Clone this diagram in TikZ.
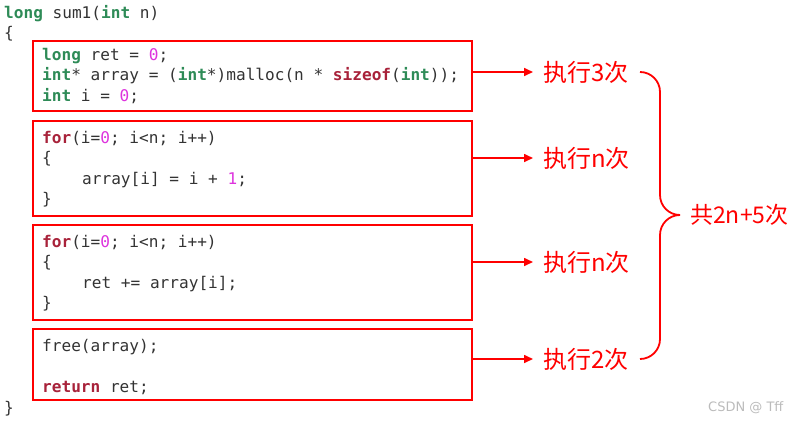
\documentclass[tikz,border=0pt]{standalone}
\usepackage{fontspec}
\newfontfamily\codefont{DejaVu Sans Mono}
\newfontfamily\cjkfont{Noto Sans CJK SC}
\newfontfamily\wmfont{DejaVu Sans}
\usetikzlibrary{arrows.meta}
\definecolor{kwgreen}{HTML}{2E8B57}
\definecolor{kwred}{HTML}{A8223A}
\definecolor{numpink}{HTML}{DD33DD}
\definecolor{codegray}{HTML}{333333}
\definecolor{wmgray}{HTML}{BBBBBB}
\newcommand{\kwg}[1]{{\bfseries\color{kwgreen}#1}}
\newcommand{\kwr}[1]{{\bfseries\color{kwred}#1}}
\newcommand{\cnum}[1]{{\color{numpink}#1}}
\begin{document}
\begin{tikzpicture}[x=1pt,y=-1pt,
  code/.style={anchor=base west, inner sep=0pt, font=\codefont\fontsize{16.1}{19}\selectfont, text=codegray},
  blk/.style={draw=red, line width=1.8pt, inner sep=0pt, anchor=north west, minimum width=439pt},
  lab/.style={anchor=west, font=\cjkfont\fontsize{24}{28}\selectfont, text=red, inner sep=0pt},
  arr/.style={red, line width=1.6pt, -{Triangle[length=9pt,width=8pt]}, shorten >=10pt}]
\useasboundingbox (0,0) rectangle (802,423);
% outer code
\node[code] (c0) at (4,18) {\kwg{long} sum1(\kwg{int} n)};
\node[code] (c1) at (4,38) {\{};
\node[code] (c99) at (4,413) {\}};
% boxes
\node[blk, minimum height=70pt] (b1) at (32,40) {};
\node[blk, minimum height=95pt] (b2) at (32,120) {};
\node[blk, minimum height=95pt] (b3) at (32,224) {};
\node[blk, minimum height=71pt] (b4) at (32,328) {};
% box 1
\node[code] (t11) at (42,60) {\kwg{long} ret = \cnum{0};};
\node[code] (t12) at (42,80.5) {\kwg{int}* array = (\kwg{int}*)malloc(n * \kwr{sizeof}(\kwg{int}));};
\node[code] (t13) at (42,101) {\kwg{int} i = \cnum{0};};
% box 2
\node[code] (t21) at (42,143) {\kwr{for}(i=\cnum{0}; i<n; i++)};
\node[code] (t22) at (42,163) {\{};
\node[code] (t23) at (82,184) {array[i] = i + \cnum{1};};
\node[code] (t24) at (42,204) {\}};
% box 3
\node[code] (t31) at (42,247) {\kwr{for}(i=\cnum{0}; i<n; i++)};
\node[code] (t32) at (42,267) {\{};
\node[code] (t33) at (82,288) {ret += array[i];};
\node[code] (t34) at (42,308) {\}};
% box 4
\node[code] (t41) at (42,351) {free(array);};
\node[code] (t42) at (42,392) {\kwr{return} ret;};
% labels
\node[lab] (l1) at (543,72) {执行3次};
\node[lab] (l2) at (543,158) {执行n次};
\node[lab] (l3) at (543,262) {执行n次};
\node[lab] (l4) at (543,359) {执行2次};
\node[lab, font=\cjkfont\fontsize{23}{27}\selectfont] (tot) at (690,215) {共2n+5次};
% arrows
\draw[arr] (b1.east |- l1.west) -- (l1.west);
\draw[arr] (b2.east |- l2.west) -- (l2.west);
\draw[arr] (b3.east |- l3.west) -- (l3.west);
\draw[arr] (b4.east |- l4.west) -- (l4.west);
% brace
\draw[red, line width=1.8pt] (640,72) to[out=0,in=90] (660,92) -- (660,195)
  to[out=-90,in=180] (680,215) to[out=180,in=90] (660,235) -- (660,339)
  to[out=-90,in=0] (640,359);
% watermark
\node[anchor=base west, inner sep=0pt, font=\wmfont\fontsize{13}{15}\selectfont, text=wmgray] (wm) at (708,411) {CSDN @ Tff};
\end{tikzpicture}
\end{document}
